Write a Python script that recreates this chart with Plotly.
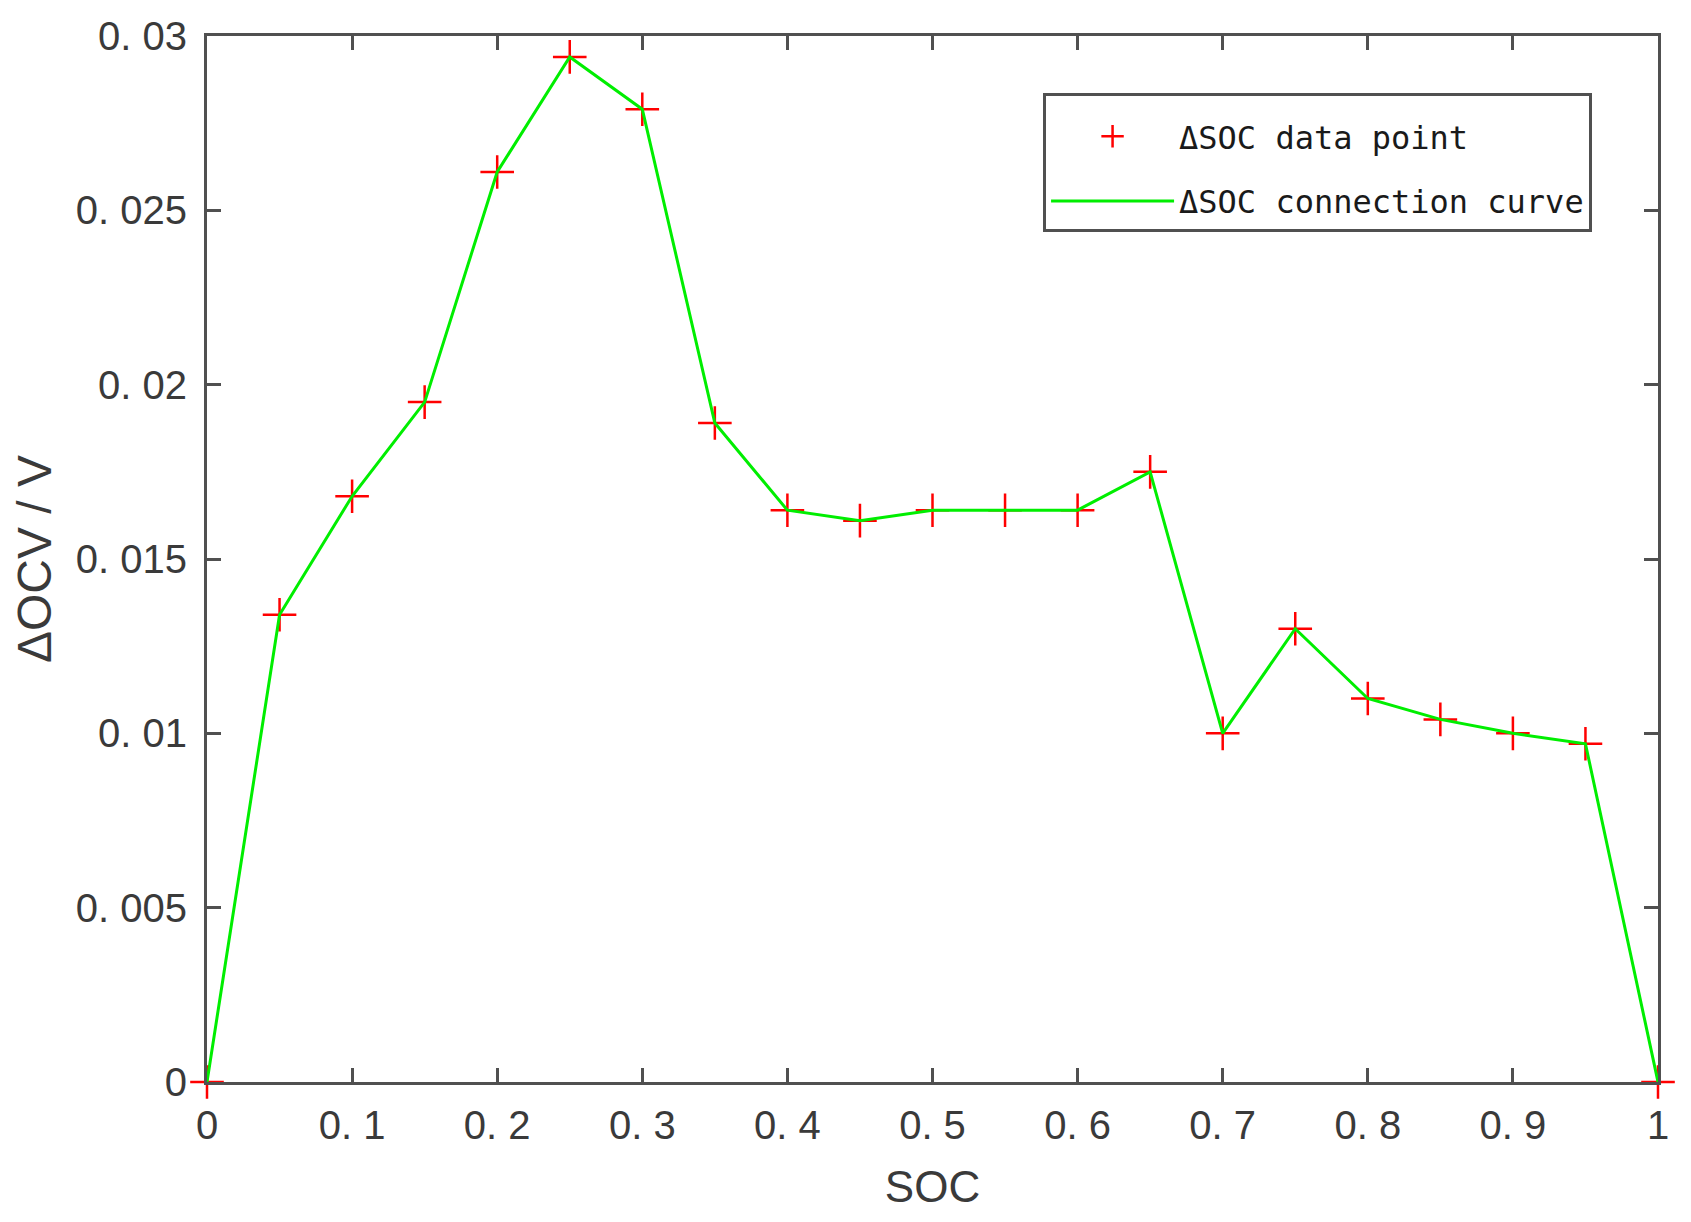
import plotly.graph_objects as go

# SOC sample points and the OCV difference
soc = [0.0, 0.05, 0.1, 0.15, 0.2, 0.25, 0.3, 0.35, 0.4, 0.45, 0.5,
       0.55, 0.6, 0.65, 0.7, 0.75, 0.8, 0.85, 0.9, 0.95, 1.0]
delta_ocv = [0.0, 0.0134, 0.0168, 0.0195, 0.0261, 0.0294, 0.0279, 0.0189,
             0.0164, 0.0161, 0.0164, 0.0164, 0.0164, 0.0175, 0.0100, 0.0130,
             0.0110, 0.0104, 0.0100, 0.0097, 0.0]

x_tickvals = [0, 0.1, 0.2, 0.3, 0.4, 0.5, 0.6, 0.7, 0.8, 0.9, 1.0]
x_ticktext = ["0", "0. 1", "0. 2", "0. 3", "0. 4", "0. 5", "0. 6", "0. 7", "0. 8", "0. 9", "1"]
y_tickvals = [0, 0.005, 0.01, 0.015, 0.02, 0.025, 0.03]
y_ticktext = ["0", "0. 005", "0. 01", "0. 015", "0. 02", "0. 025", "0. 03"]

AXIS_COLOR = "#505050"
TEXT_COLOR = "#3a3a3a"

fig = go.Figure()

fig.add_trace(go.Scatter(
    x=soc, y=delta_ocv,
    mode="markers",
    name="\u0394SOC data point",
    legendgroup="pts",
    marker=dict(symbol="cross-thin", size=24, line=dict(color="#ff0000", width=2.5)),
    cliponaxis=False,
))

fig.add_trace(go.Scatter(
    x=soc, y=delta_ocv,
    mode="lines",
    name="\u0394SOC connection curve",
    legendgroup="curve",
    line=dict(color="#00ee00", width=3),
    cliponaxis=False,
))

axis_common = dict(
    showline=True, linecolor=AXIS_COLOR, linewidth=3,
    mirror="ticks", ticks="inside", ticklen=14, tickwidth=2.5, tickcolor=AXIS_COLOR,
    showgrid=False, zeroline=False, automargin=False,
    tickfont=dict(family="Liberation Sans, Arial", size=40, color=TEXT_COLOR),
)

fig.update_xaxes(
    range=[0, 1], tickmode="array", tickvals=x_tickvals, ticktext=x_ticktext,
    title=dict(text="SOC", standoff=26,
               font=dict(family="Liberation Sans Narrow, Arial", size=44, color=TEXT_COLOR)),
    ticklabelstandoff=6,
    **axis_common,
)
fig.update_yaxes(
    range=[0, 0.03], tickmode="array", tickvals=y_tickvals, ticktext=y_ticktext,
    title=dict(text="\u0394OCV / V", standoff=22,
               font=dict(family="Liberation Sans, Arial", size=48, color=TEXT_COLOR)),
    ticklabelstandoff=9,
    **axis_common,
)

# the page body adds an 8px offset, so the figure is sized to fit inside it
fig.update_layout(
    width=1683, height=1214,
    margin=dict(l=199, r=33, t=28, b=140),
    paper_bgcolor="white", plot_bgcolor="white",
    showlegend=True,
    legend=dict(
        x=0.5762, y=0.9455, xanchor="left", yanchor="top",
        bgcolor="white", bordercolor=AXIS_COLOR, borderwidth=3,
        font=dict(family="DejaVu Sans Mono, Liberation Mono", size=32, color="#1a1a1a"),
        tracegroupgap=20, itemwidth=123,
        title=dict(text=" ", font=dict(size=10)),
    ),
)

fig.write_html("out.html")
